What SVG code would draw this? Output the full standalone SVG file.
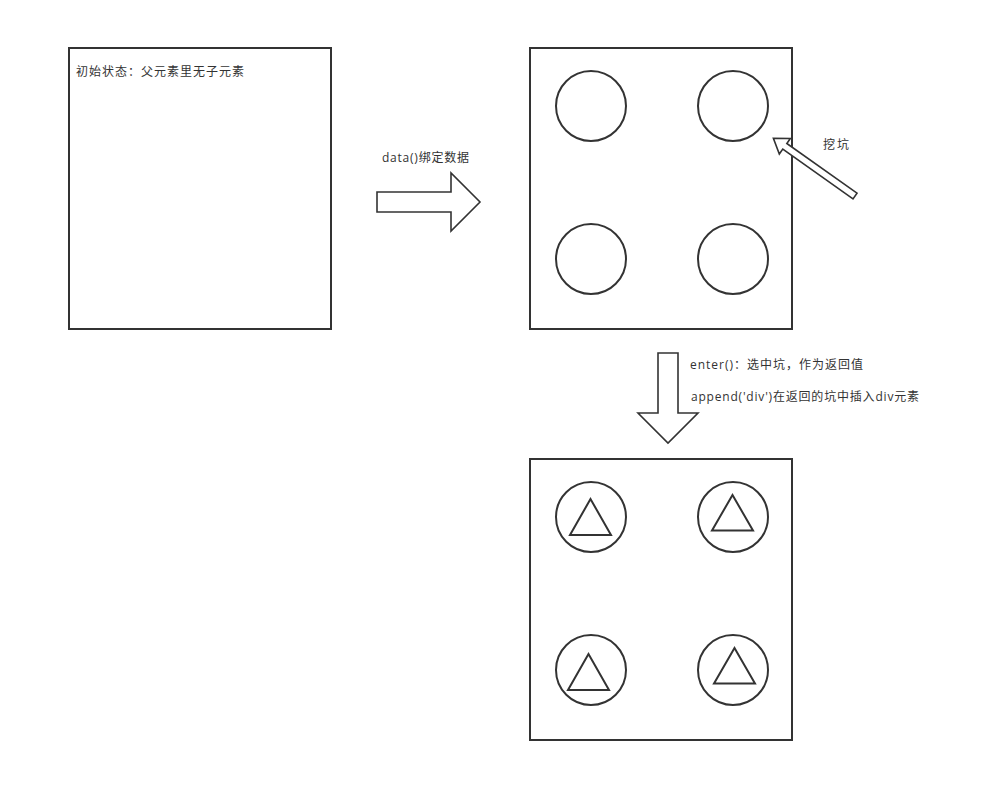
<svg xmlns="http://www.w3.org/2000/svg" width="996" height="801" viewBox="0 0 996 801">
<style>
.box{fill:#fff;stroke:#333;stroke-width:2}
.c{fill:none;stroke:#333;stroke-width:2}
.tri{fill:none;stroke:#333;stroke-width:2;stroke-linejoin:miter}
.arr{fill:#fff;stroke:#333;stroke-width:1.6;stroke-linejoin:miter}
text{font-family:"Open Sans","Noto Sans CJK SC",sans-serif;font-size:12px;fill:#333}
</style>
<rect width="996" height="801" fill="#fff"/>
<g id="box-initial">
<rect class="box" x="69" y="48" width="262" height="281"/>
<text x="76" y="76" textLength="168" lengthAdjust="spacing">初始状态：父元素里无子元素</text>
</g>
<g id="box-pits">
<rect class="box" x="530" y="48" width="262" height="281"/>
<circle class="c" cx="591" cy="106" r="35"/>
<circle class="c" cx="733" cy="106" r="35"/>
<circle class="c" cx="591" cy="259" r="35"/>
<circle class="c" cx="733" cy="259" r="35"/>
</g>
<g id="box-filled">
<rect class="box" x="530" y="459" width="262" height="281"/>
<circle class="c" cx="591" cy="517" r="35"/>
<circle class="c" cx="733" cy="517" r="35"/>
<circle class="c" cx="591" cy="670" r="35"/>
<circle class="c" cx="733" cy="670" r="35"/>
<polygon class="tri" points="590.5,499 570,535 611,535"/>
<polygon class="tri" points="732.5,495 712,530.5 753,530.5"/>
<polygon class="tri" points="588.5,654 568,690 609,690"/>
<polygon class="tri" points="734.5,648 714,683.5 755,683.5"/>
</g>
<g id="connectors">
<g id="arrow-data">
<polygon class="arr" points="377,192 451,192 451,173 480,202 451,231 451,212 377,212"/>
<text x="382" y="162" textLength="87" lengthAdjust="spacing">data()绑定数据</text>
</g>
<g id="arrow-dig">
<polygon class="arr" transform="translate(855,196) rotate(215.3)" points="0,-3.5 86,-3.5 86,-9.5 100,0 86,9.5 86,3.5 0,3.5"/>
<text x="823" y="149" textLength="26" lengthAdjust="spacing">挖坑</text>
</g>
<g id="arrow-enter">
<polygon class="arr" points="658,353 678,353 678,413 698,413 668,443 638,413 658,413"/>
<text x="690" y="369" textLength="173" lengthAdjust="spacing">enter()：选中坑，作为返回值</text>
<text x="691" y="401" textLength="228" lengthAdjust="spacing">append('div')在返回的坑中插入div元素</text>
</g>
</g>
</svg>
